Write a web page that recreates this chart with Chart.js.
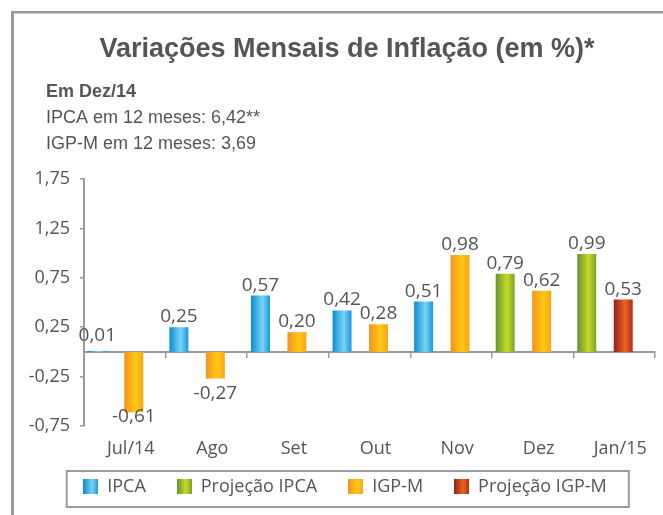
<!DOCTYPE html>
<html lang="pt-BR">
<head>
<meta charset="utf-8">
<title>Variações Mensais de Inflação</title>
<script src="https://cdn.jsdelivr.net/npm/chart.js@4.4.1/dist/chart.umd.min.js"></script>
<style>
  html, body { margin: 0; padding: 0; background: #fff; }
</style>
</head>
<body>
<canvas id="grafico" width="663" height="515"></canvas>
<script>
// Dados do gráfico
const categorias = ['Jul/14', 'Ago', 'Set', 'Out', 'Nov', 'Dez', 'Jan/15'];
const ipca     = [0.01, 0.25, 0.57, 0.42, 0.51, null, null];
const projIpca = [null, null, null, null, null, 0.79, 0.99];
const igpm     = [-0.61, -0.27, 0.20, 0.28, 0.98, 0.62, null];
const projIgpm = [null, null, null, null, null, null, 0.53];
const ticksY   = [-0.75, -0.25, 0.25, 0.75, 1.25, 1.75];

const titulo = 'Variações Mensais de Inflação (em %)*';
const subtitulo = 'Em Dez/14';
const notas = ['IPCA em 12 meses: 6,42**', 'IGP-M em 12 meses: 3,69'];

// Cores (degradê horizontal de cada barra)
const paradas = [0, 0.6, 1];
const cores = {
  ipca:     ['#0b8ed1', '#7ad3f6', '#1799d9'],
  projIpca: ['#5f9530', '#cbd926', '#76a32c'],
  igpm:     ['#f39320', '#fdc812', '#f6a51b'],
  projIgpm: ['#9a1c1f', '#ea661d', '#b0291b']
};
const corTexto = '#555555';
const corLinha = '#9b9b9b';
const fonte = '"Open Sans", "Noto Sans", sans-serif';
const fonteTitulo = '"Liberation Sans", Arial, sans-serif';

function formatar(v) {
  return v.toFixed(2).replace('.', ',');
}

function degrade(ctx, x0, x1, lista) {
  const g = ctx.createLinearGradient(x0, 0, x1, 0);
  lista.forEach((c, k) => g.addColorStop(paradas[k], c));
  return g;
}

// Quadradinho da legenda com o mesmo degradê
function amostra(lista) {
  const c = document.createElement('canvas');
  c.width = 15; c.height = 15;
  const cx = c.getContext('2d');
  cx.fillStyle = degrade(cx, 0, 15, lista);
  cx.fillRect(0, 0, 15, 15);
  return c;
}

// Moldura cinza, cabeçalho e caixa da legenda
const moldura = {
  id: 'moldura',
  afterLayout(chart) {
    // legenda um pouco mais para baixo (espaço dos rótulos do eixo x) e centrada na moldura
    chart.legend.top += 20.5;
    chart.legend.bottom += 20.5;
    chart.legend.left += 10;
  },
  beforeDraw(chart) {
    const ctx = chart.ctx;
    ctx.save();
    ctx.fillStyle = corLinha;
    ctx.fillRect(11, 11, 3, chart.height - 11);
    ctx.fillRect(11, 11, chart.width - 11, 2.5);
    ctx.restore();
  },
  afterDraw(chart) {
    const ctx = chart.ctx;
    ctx.save();
    ctx.fillStyle = corTexto;
    ctx.textBaseline = 'alphabetic';
    ctx.textAlign = 'center';
    ctx.font = 'bold 27px ' + fonteTitulo;
    ctx.fillText(titulo, 347, 57);
    ctx.textAlign = 'left';
    ctx.font = 'bold 18px ' + fonteTitulo;
    ctx.fillText(subtitulo, 46, 97);
    ctx.font = '18px ' + fonteTitulo;
    notas.forEach((t, i) => ctx.fillText(t, 46, 123 + i * 26));

    const caixas = chart.legend.legendHitBoxes;
    if (caixas.length) {
      const prim = caixas[0], ult = caixas[caixas.length - 1];
      const meio = prim.top + prim.height / 2;
      const esq = prim.left - 16.5;
      ctx.strokeStyle = corLinha;
      ctx.lineWidth = 2;
      ctx.strokeRect(esq, meio - 15.5, ult.left + ult.width + 22 - esq, 36);
    }
    ctx.restore();
  }
};

// Degradê e deslocamento dos grupos de barras
const barras = {
  id: 'barras',
  afterDatasetsUpdate(chart) {
    const eixo = chart.scales.x;
    const desloc = (eixo.getPixelForValue(1) - eixo.getPixelForValue(0)) * 0.113;
    chart.data.datasets.forEach((ds, i) => {
      chart.getDatasetMeta(i).data.forEach(b => {
        b.x -= desloc;
        b.options.backgroundColor = degrade(chart.ctx, b.x - b.width / 2, b.x + b.width / 2, ds.cores);
      });
    });
  }
};

// Valores sobre/sob as barras
const rotulos = {
  id: 'rotulos',
  afterDatasetsDraw(chart) {
    const ctx = chart.ctx;
    const zero = chart.scales.y.getPixelForValue(0);
    ctx.save();
    ctx.font = '19px ' + fonte;
    ctx.fillStyle = corTexto;
    ctx.textAlign = 'center';
    ctx.textBaseline = 'alphabetic';
    chart.data.datasets.forEach((ds, i) => {
      chart.getDatasetMeta(i).data.forEach((b, j) => {
        const v = ds.data[j];
        if (v === null) return;
        if (v >= 0) {
          ctx.fillText(formatar(v), b.x, Math.min(b.y, zero - 6) - 5);
        } else {
          ctx.fillText(formatar(v), b.x, Math.min(b.y + 20, chart.chartArea.bottom - 4));
        }
      });
    });
    ctx.restore();
  }
};

function serie(rotulo, dados, lista, pilha) {
  return {
    label: rotulo,
    data: dados,
    stack: pilha,
    cores: lista,
    backgroundColor: () => lista[0],
    borderWidth: 0,
    categoryPercentage: 0.894,
    barPercentage: 0.52
  };
}

const ctx = document.getElementById('grafico').getContext('2d');
new Chart(ctx, {
  type: 'bar',
  data: {
    labels: categorias,
    datasets: [
      serie('IPCA', ipca, cores.ipca, 'a'),
      serie('Projeção IPCA', projIpca, cores.projIpca, 'a'),
      serie('IGP-M', igpm, cores.igpm, 'b'),
      serie('Projeção IGP-M', projIgpm, cores.projIgpm, 'b')
    ]
  },
  options: {
    responsive: false,
    animation: false,
    devicePixelRatio: 1,
    layout: { padding: { left: 25, right: 8, top: 179, bottom: 30 } },
    scales: {
      x: {
        position: { y: -0.75 },
        grid: { display: false, drawTicks: false },
        border: { display: false },
        ticks: { color: corTexto, font: { family: fonte, size: 18 }, padding: 12, labelOffset: 6, maxRotation: 0 }
      },
      eixoZero: {
        type: 'category',
        axis: 'x',
        position: { y: 0 },
        offset: true,
        grid: { offset: true, drawOnChartArea: false, drawTicks: true, tickLength: 5, color: corLinha, lineWidth: 1.5 },
        border: { display: true, color: corLinha, width: 2 },
        ticks: { display: false }
      },
      y: {
        min: -0.75,
        max: 1.75,
        afterBuildTicks: (s) => { s.ticks = ticksY.map(v => ({ value: v })); },
        afterFit: (s) => { s.width = 59; },
        grid: { drawOnChartArea: false, drawTicks: true, tickLength: 4, color: corLinha, lineWidth: 1.5 },
        border: { display: true, color: corLinha, width: 2 },
        ticks: { color: corTexto, font: { family: fonte, size: 18 }, padding: 10, callback: (v) => formatar(v) }
      }
    },
    plugins: {
      tooltip: { enabled: false },
      legend: {
        position: 'bottom',
        labels: {
          color: corTexto,
          font: { family: fonte, size: 18 },
          boxWidth: 15,
          boxHeight: 15,
          padding: 31,
          usePointStyle: true,
          generateLabels: (chart) => chart.data.datasets.map((ds, i) => ({
            text: ds.label,
            pointStyle: amostra(ds.cores),
            fontColor: corTexto,
            lineWidth: 0,
            hidden: false,
            datasetIndex: i
          }))
        }
      }
    }
  },
  plugins: [moldura, barras, rotulos]
});
</script>
</body>
</html>
